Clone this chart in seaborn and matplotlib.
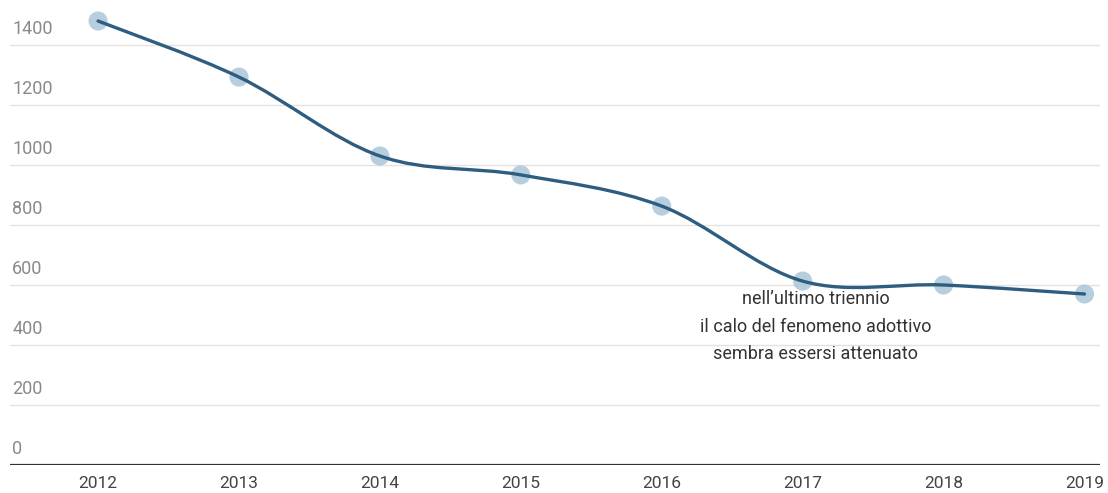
import matplotlib
matplotlib.use("Agg")
import matplotlib.pyplot as plt
import seaborn as sns
import pandas as pd
from matplotlib.path import Path
from matplotlib.patches import PathPatch

years = [2012, 2013, 2014, 2015, 2016, 2017, 2018, 2019]
adoptions = [1480, 1293, 1030, 967, 863, 613, 600, 570]
y_ticks = [0, 200, 400, 600, 800, 1000, 1200, 1400]
note = "nell\u2019ultimo triennio\nil calo del fenomeno adottivo\nsembra essersi attenuato"

df = pd.DataFrame({"year": years, "value": adoptions})

sns.set_theme(style="white")
plt.rcParams["font.family"] = ["Roboto", "DejaVu Sans"]

fig = plt.figure(figsize=(11.08, 4.93), dpi=100)
ax = fig.add_axes([10 / 1108, 28 / 493, 1090 / 1108, 465 / 493])

# gridlines
for t in y_ticks[1:]:
    ax.axhline(t, color="#e2e2e2", lw=1, zorder=0)
ax.axhline(0, color="#333333", lw=1.6, zorder=1)

# smooth line (catmull-rom through the points)
xs, ys = df["year"].tolist(), df["value"].tolist()
verts, codes = [(xs[0], ys[0])], [Path.MOVETO]
n = len(xs)
for i in range(n - 1):
    p0 = (xs[max(i - 1, 0)], ys[max(i - 1, 0)])
    p1 = (xs[i], ys[i])
    p2 = (xs[i + 1], ys[i + 1])
    p3 = (xs[min(i + 2, n - 1)], ys[min(i + 2, n - 1)])
    c1 = (p1[0] + (p2[0] - p0[0]) / 6, p1[1] + (p2[1] - p0[1]) / 6)
    c2 = (p2[0] - (p3[0] - p1[0]) / 6, p2[1] - (p3[1] - p1[1]) / 6)
    verts += [c1, c2, p2]
    codes += [Path.CURVE4] * 3
ax.add_patch(PathPatch(Path(verts, codes), fill=False, edgecolor="#2f5d80",
                       lw=2.4, zorder=3, capstyle="round"))

sns.scatterplot(data=df, x="year", y="value", ax=ax, s=190, color="#b0c9db",
                edgecolor="none", alpha=0.9, zorder=2, legend=False)

ax.set_xlim(2011.375, 2019.11)
ax.set_ylim(0, 1550)
ax.set_xticks(years)
ax.set_xticklabels([str(y) for y in years], fontsize=12.5, color="#444444")
ax.set_yticks([])
ax.tick_params(axis="x", length=0, pad=8)
for t in y_ticks:
    ax.text(2011.39, t + 22, str(t), fontsize=13, color="#8a8a8a",
            ha="left", va="bottom")
ax.set_xlabel("")
ax.set_ylabel("")
for s in ax.spines.values():
    s.set_visible(False)

ax.text(2017.09, 582, note, fontsize=13, color="#333333", ha="center",
        va="top", linespacing=1.65)

fig.savefig("out.png", dpi=100)
